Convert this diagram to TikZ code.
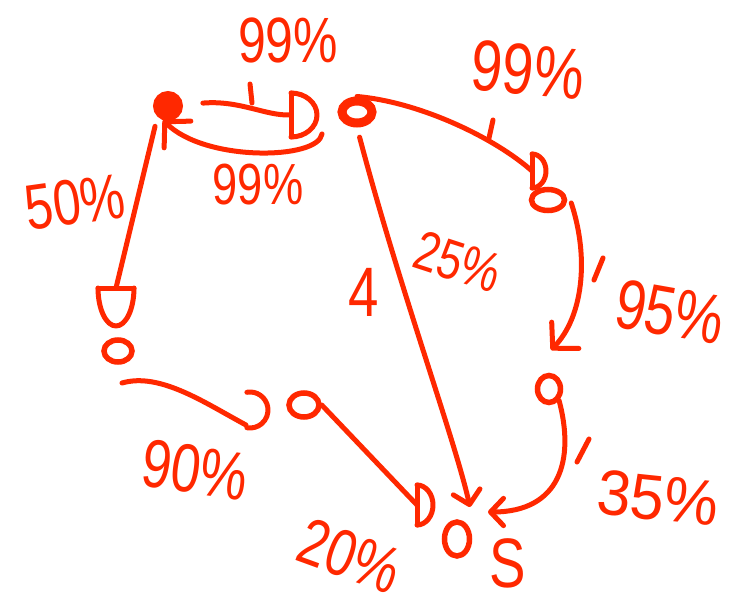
\documentclass[tikz,border=0pt]{standalone}
\usepackage{fontspec}
\usepackage{graphicx}
\setmainfont{Liberation Sans}
\usetikzlibrary{arrows.meta,shapes.geometric,calc}
\definecolor{ink}{RGB}{255,40,0}
\newcommand\handw[2][0.78]{\scalebox{#1}[1]{#2}}
\begin{document}
\begin{tikzpicture}[x=1pt,y=-1pt,
  inkline/.style={draw=ink,line width=5pt,line cap=round,line join=round},
  blob/.style={circle,fill=ink,draw=ink,line width=4pt,inner sep=0pt,minimum size=26pt},
  ring/.style={ellipse,draw=ink,line width=5.5pt,inner sep=0pt},
  lab/.style={text=ink,font=\fontsize{#1}{#1}\selectfont,inner sep=0pt},
  lab/.default=66,
  barb/.style={-{Straight Barb[length=#1,width=2.1*#1,round]}},
  barb/.default=16pt,
  pics/dhead/.style n args={2}{code={
    \draw[inkline] (0,-#1) -- (0,#1);
    \draw[inkline] (0,-#1) arc[start angle=-90,end angle=90,x radius=#2,y radius=#1];}},
  pics/chead/.style={code={
    \draw[inkline] (-100:#1) arc[start angle=-100,end angle=100,radius=#1];}},
]
\fill[white] (0,0) rectangle (744,607);
\useasboundingbox (0,0) rectangle (744,607);

% nodes
\node[blob] (A) at (168,106) {};
\coordinate (B) at (291,115);
\node[ring,line width=9pt,minimum width=30pt,minimum height=22pt] (C) at (357,112) {};
\node[ring,minimum width=33pt,minimum height=21pt] (Dn) at (548,200) {};
\node[ring,minimum width=23pt,minimum height=27pt] (Q) at (549,389) {};
\node[ring,minimum width=28pt,minimum height=22pt] (F) at (118,351) {};
\node[ring,minimum width=30pt,minimum height=24pt] (G) at (304,405) {};
\node[ring,minimum width=25pt,minimum height=34pt] (O) at (457,539) {};

% free ends
\coordinate (ba0) at (322,134);
\coordinate (ba1) at (163,120);
\coordinate (fD) at (116,288);
\coordinate (fg0) at (122,383);
\coordinate (fg1) at (246,425);
\coordinate (gC) at (250,410);
\coordinate (cD) at (532,171);
\coordinate (dq1) at (551,350);
\coordinate (co1) at (470,507);
\coordinate (qo1) at (488,512);
\coordinate (gD) at (417,505);

% connectors
\draw[inkline,shorten <=20pt] (A) .. controls (240,100) and (265,116) .. (B);
\pic at (B) {dhead={22}{26}};
\draw[inkline,barb=18pt] (ba0) .. controls (318,160) and (205,162) .. (ba1);
\draw[inkline,shorten <=10pt] (A.south west) -- (fD);
\pic[rotate=-90] at (fD) {dhead={18}{38}};
\draw[inkline] (fg0) .. controls (160,372) and (205,403) .. (fg1);
\pic at (gC) {chead=18};
\draw[inkline] (C.north) .. controls (420,102) and (495,138) .. (cD);
\pic at (cD) {dhead={17}{14}};
\draw[inkline,barb=18pt] ([xshift=4pt,yshift=-3pt]Dn.east) .. controls (590,260) and (582,318) .. (dq1);
\draw[inkline,barb=13pt,shorten <=10pt] (C.south) .. controls (400,290) and (455,440) .. (co1);
\draw[inkline,barb=13pt] (Q.south east) .. controls (575,460) and (560,512) .. (qo1);
\draw[inkline] (G.east) -- (gD);
\pic at (gD) {dhead={20}{16}};

% tick marks
\draw[inkline] (250,84) -- (252,103);
\draw[inkline] (493,120) -- (489,138);
\draw[inkline] (603,258) -- (594,280);
\draw[inkline] (589,439) -- (577,462);

% labels
\node[lab=64] (l1) at (288,40) {\handw{99\%}};
\node[rotate=-5,lab=72] (l2) at (528,70) {\handw{99\%}};
\node[rotate=8,lab=64] (l3) at (75,202) {\handw{50\%}};
\node[lab=58] (l4) at (258,185) {\handw{99\%}};
\node[lab=70] (l5) at (364,292) {\handw{4}};
\node[rotate=-18,lab=56] (l6) at (458,262) {\handw{25\%}};
\node[rotate=-10,lab=70] (l7) at (670,312) {\handw{95\%}};
\node[rotate=-8,lab=68] (l8) at (195,470) {\handw{90\%}};
\node[rotate=-20,lab=66] (l9) at (350,556) {\handw{20\%}};
\node[rotate=-6,lab=64] (l10) at (658,498) {\handw[0.95]{35\%}};
\node[lab=70] (l11) at (508,563) {\handw{S}};
\end{tikzpicture}
\end{document}
